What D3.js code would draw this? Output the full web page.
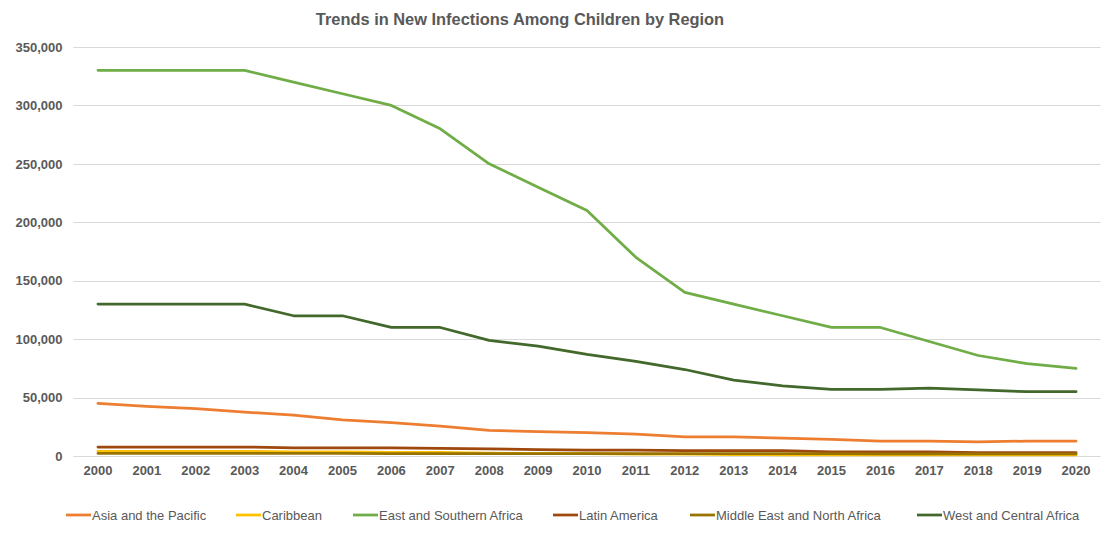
<!DOCTYPE html>
<html>
<head>
<meta charset="utf-8">
<script src="https://cdn.jsdelivr.net/npm/d3@7"></script>
<style>
  body { margin: 0; background: #fff; }
  #chart { width: 1101px; height: 550px; }
  .tick text { font-family: "Liberation Sans", Arial, sans-serif; font-weight: bold; font-size: 13px; fill: #595959; }
</style>
</head>
<body>
<div id="chart"></div>
<script>
// 年份
const years = ["2000","2001","2002","2003","2004","2005","2006","2007","2008","2009","2010",
               "2011","2012","2013","2014","2015","2016","2017","2018","2019","2020"];

// 各地区数据
const asiaPacific = [45000,42500,40500,37500,35000,31000,28500,25500,22000,20800,20000,
                     18800,16300,16300,15400,14300,12800,12800,12000,12800,12800];
const caribbean = [4000,4000,4000,4000,3500,3500,3000,3000,2500,2000,2000,
                   1500,1500,1200,1000,1000,1000,1000,900,900,900];
const eastSouthernAfrica = [330000,330000,330000,330000,320000,310000,300000,280000,250000,230000,210000,
                            170000,140000,130000,120000,110000,110000,98000,86000,79000,75000];
const latinAmerica = [7700,7700,7700,7700,7000,7000,7000,6500,6000,5500,5000,
                      5000,4500,4500,4500,3500,3500,3500,2800,2800,2800];
const middleEastNorthAfrica = [2200,2200,2200,2200,2200,2200,2100,2100,2000,2000,2000,
                               2000,2000,2000,2000,2000,1900,1900,1800,1800,1800];
const westCentralAfrica = [130000,130000,130000,130000,120000,120000,110000,110000,99000,94000,87000,
                           81000,74000,65000,60000,57000,57000,58000,56500,55000,55000];

const yTicks = [0,50000,100000,150000,200000,250000,300000,350000];

const seriesNames = ["Asia and the Pacific","Caribbean","East and Southern Africa","Latin America",
                     "Middle East and North Africa","West and Central Africa"];
const seriesColors = ["#ED7D31","#FFC000","#70AD47","#9E480E","#997300","#43682B"];
const seriesValues = [asiaPacific, caribbean, eastSouthernAfrica, latinAmerica, middleEastNorthAfrica, westCentralAfrica];

const width = 1101, height = 550;
const margin = {top: 47, right: 0.5, bottom: 94, left: 73.5};

const svg = d3.select("#chart").append("svg")
    .attr("width", width)
    .attr("height", height);

// 标题
svg.append("text")
    .attr("x", 520)
    .attr("y", 25)
    .attr("text-anchor", "middle")
    .style("font-family", "'Liberation Sans', Arial, sans-serif")
    .style("font-weight", "bold")
    .style("font-size", "16.4px")
    .style("fill", "#595959")
    .text("Trends in New Infections Among Children by Region");

const x = d3.scaleBand()
    .domain(years)
    .range([margin.left, width - margin.right]);

const y = d3.scaleLinear()
    .domain([0, 350000])
    .range([height - margin.bottom, margin.top]);

// 网格线
svg.append("g")
    .selectAll("line")
    .data(yTicks)
    .join("line")
    .attr("x1", margin.left)
    .attr("x2", width - margin.right)
    .attr("y1", d => Math.round(y(d)) + 0.5)
    .attr("y2", d => Math.round(y(d)) + 0.5)
    .attr("stroke", "#d9d9d9")
    .attr("stroke-width", 1);

// Y轴
const yAxis = svg.append("g")
    .attr("transform", `translate(${margin.left},0)`)
    .call(d3.axisLeft(y).tickValues(yTicks).tickFormat(d3.format(",")).tickSize(0).tickPadding(11));
yAxis.select(".domain").remove();

// X轴
const xAxis = svg.append("g")
    .attr("transform", `translate(0,${height - margin.bottom})`)
    .call(d3.axisBottom(x).tickSize(0).tickPadding(10));
xAxis.select(".domain").remove();

// 折线
const line = d3.line()
    .x((d, i) => x(years[i]) + x.bandwidth() / 2)
    .y(d => y(d));

svg.append("g")
    .selectAll("path")
    .data(seriesValues)
    .join("path")
    .attr("d", d => line(d))
    .attr("fill", "none")
    .attr("stroke", (d, i) => seriesColors[i])
    .attr("stroke-width", 2.75)
    .attr("stroke-linejoin", "round")
    .attr("stroke-linecap", "round");

// 图例
const legendX = [66, 236, 353, 553, 690, 917];
const legend = svg.append("g");
const items = legend.selectAll("g")
    .data(seriesNames)
    .join("g")
    .attr("transform", (d, i) => `translate(${legendX[i]},515)`);

items.append("line")
    .attr("x1", 0)
    .attr("x2", 25)
    .attr("stroke", (d, i) => seriesColors[i])
    .attr("stroke-width", 2.75);

items.append("text")
    .attr("x", 26)
    .attr("y", 4.5)
    .style("font-family", "'Liberation Sans Narrow', 'Arial Narrow', sans-serif")
    .style("font-size", "13px")
    .style("fill", "#595959")
    .text(d => d);
</script>
</body>
</html>
